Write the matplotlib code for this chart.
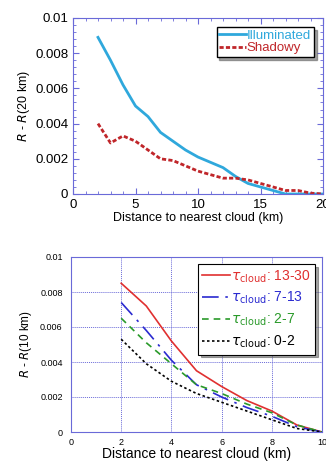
import matplotlib
matplotlib.use("Agg")
from matplotlib import pyplot as plt
from matplotlib.ticker import MultipleLocator

plt.rcParams['font.family'] = ['Liberation Sans', 'DejaVu Sans']

# top panel: illuminated vs shadowy
dist_top = [2, 3, 4, 5, 6, 7, 8, 9, 10, 11, 12, 13, 14, 15, 16, 17, 18, 19, 20]
illuminated = [0.0089, 0.0076, 0.0062, 0.0050, 0.0044, 0.0035, 0.0030, 0.0025,
               0.0021, 0.0018, 0.0015, 0.0010, 0.0006, 0.0004, 0.0002, 0.0000,
               0.0000, 0.0000, 0.0000]
shadowy = [0.0040, 0.0029, 0.0033, 0.0030, 0.0025, 0.0020, 0.0019, 0.0016,
           0.0013, 0.0011, 0.0009, 0.0009, 0.0008, 0.0006, 0.0004, 0.0002,
           0.0002, 0.00005, 0.0000]

# bottom panel: by cloud optical thickness
dist_bot = [2, 3, 4, 5, 6, 7, 8, 9, 10]
tau_13_30 = [0.0085, 0.0072, 0.0052, 0.0035, 0.0026, 0.0018, 0.0012, 0.0004, 0.0]
tau_7_13 = [0.0074, 0.0058, 0.0041, 0.0027, 0.0020, 0.0014, 0.0009, 0.0003, 0.0]
tau_2_7 = [0.0065, 0.0051, 0.0039, 0.0027, 0.0022, 0.0016, 0.0011, 0.0004, 0.0]
tau_0_2 = [0.0053, 0.0039, 0.0029, 0.0022, 0.0017, 0.0012, 0.0007, 0.0002, 0.0]

frame_col = '#6a6ad8'

fig = plt.figure(figsize=(3.26, 4.63), dpi=100)

# ---- top ----
ax1 = fig.add_axes([73 / 326, 1 - 194 / 463, 250 / 326, 176 / 463])
ax1.plot(dist_top, illuminated, color='#2fa8dc', lw=2, label='Illuminated')
ax1.plot(dist_top, shadowy, color='#c0262a', lw=2, ls=(0, (1.5, 0.8)), label='Shadowy')
ax1.set_xlim(0, 20)
ax1.set_ylim(0, 0.01)
ax1.xaxis.set_minor_locator(MultipleLocator(1))
ax1.yaxis.set_minor_locator(MultipleLocator(0.0004))
ax1.set_yticks([0, 0.002, 0.004, 0.006, 0.008, 0.01])
ax1.set_yticklabels(['0', '0.002', '0.004', '0.006', '0.008', '0.01'])
ax1.set_xticks([0, 5, 10, 15, 20])
ax1.set_xticklabels(['0', '5', '10', '15', '20'])
ax1.tick_params(which='both', direction='in', top=True, right=True,
                color=frame_col, labelsize=9.5)
ax1.tick_params(which='major', length=4)
ax1.tick_params(which='minor', length=2)
for s in ax1.spines.values():
    s.set_color(frame_col)
ax1.set_xlabel('Distance to nearest cloud (km)', fontsize=9, labelpad=1)
ax1.set_ylabel('$R$ - $R$(20 km)', fontsize=9, labelpad=2)
leg1 = ax1.legend(loc='upper right', fontsize=9.5, frameon=True, shadow=True,
                  fancybox=False, handlelength=2.0, handletextpad=0.1,
                  borderpad=0.2, labelspacing=0.0, borderaxespad=0.7,
                  framealpha=1)
leg1.get_frame().set_edgecolor('black')
leg1.get_frame().set_linewidth(1.0)
for t, c in zip(leg1.get_texts(), ['#2fa8dc', '#c0262a']):
    t.set_color(c)

# ---- bottom ----
ax2 = fig.add_axes([71 / 326, 1 - 432 / 463, 251 / 326, 175 / 463])
ax2.plot(dist_bot, tau_13_30, color='#e03030', lw=1.2, label=r'$\tau_{\rm cloud}$: 13-30')
ax2.plot(dist_bot, tau_7_13, color='#2a2ad0', lw=1.2, ls=(0, (10, 4, 1.5, 4)),
         label=r'$\tau_{\rm cloud}$: 7-13')
ax2.plot(dist_bot, tau_2_7, color='#2a9a2a', lw=1.2, ls=(0, (4, 3)),
         label=r'$\tau_{\rm cloud}$: 2-7')
ax2.plot(dist_bot, tau_0_2, color='black', lw=1.2, ls=(0, (1.5, 1.5)),
         label=r'$\tau_{\rm cloud}$: 0-2')
ax2.set_xlim(0, 10)
ax2.set_ylim(0, 0.01)
ax2.set_xticks([0, 2, 4, 6, 8, 10])
ax2.set_xticklabels(['0', '2', '4', '6', '8', '10'])
ax2.set_yticks([0, 0.002, 0.004, 0.006, 0.008, 0.01])
ax2.set_yticklabels(['0', '0.002', '0.004', '0.006', '0.008', '0.01'])
ax2.tick_params(axis='y', length=0, labelsize=6.5, pad=6)
ax2.tick_params(axis='x', length=0, labelsize=6.5, pad=4)
ax2.grid(True, color=frame_col, ls=(0, (1, 1)), lw=0.7)
for s in ax2.spines.values():
    s.set_color(frame_col)
ax2.set_xlabel('Distance to nearest cloud (km)', fontsize=10, labelpad=0)
ax2.set_ylabel('$R$ - $R$(10 km)', fontsize=8.5, labelpad=4)
leg2 = ax2.legend(loc='upper right', fontsize=10, frameon=True, shadow=True,
                  fancybox=False, handlelength=2.0, handletextpad=0.1,
                  borderpad=0.3, labelspacing=0.4, borderaxespad=0.5,
                  framealpha=1)
leg2.get_frame().set_edgecolor('black')
leg2.get_frame().set_linewidth(0.8)
for t, c in zip(leg2.get_texts(), ['#e03030', '#2a2ad0', '#2a9a2a', 'black']):
    t.set_color(c)

fig.savefig('out.png', dpi=100)
